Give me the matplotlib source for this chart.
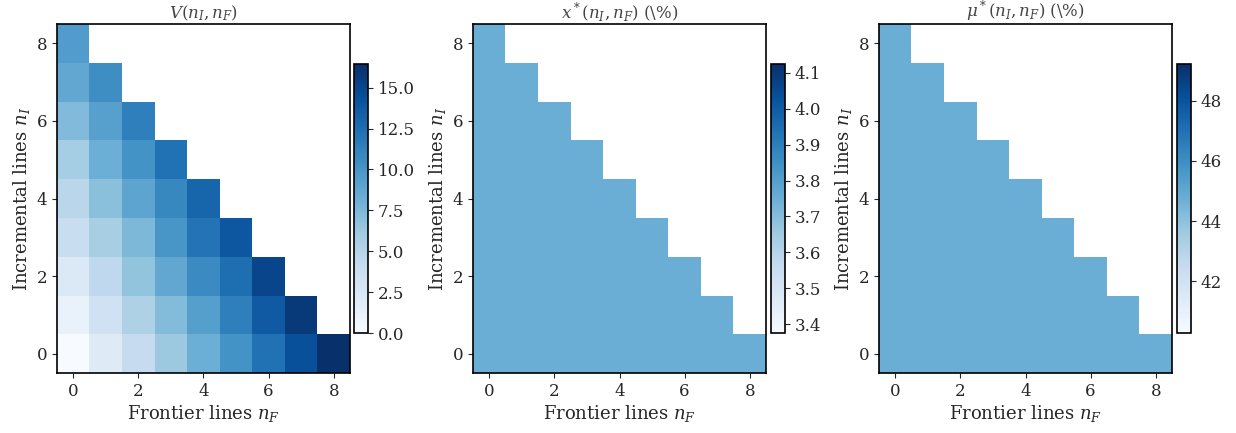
import numpy as np
import matplotlib
matplotlib.use("Agg")
import matplotlib.pyplot as plt

plt.rcParams['font.family'] = 'DejaVu Serif'
plt.rcParams['mathtext.fontset'] = 'dejavuserif'
plt.rcParams['text.color'] = '#262626'
plt.rcParams['axes.labelcolor'] = '#262626'
plt.rcParams['xtick.color'] = '#262626'
plt.rcParams['ytick.color'] = '#262626'

# V(n_I, n_F), one list per n_I (row), n_F = 0.. along the row
v_rows = [
    [0.0, 2.05, 4.1, 6.2, 8.2, 10.2, 12.3, 14.4, 16.45],  # n_I = 0
    [1.1, 3.3, 5.3, 7.2, 9.3, 11.4, 13.8, 15.8],          # n_I = 1
    [2.3, 4.4, 6.6, 8.7, 10.7, 12.5, 15.1],               # n_I = 2
    [3.8, 5.6, 7.5, 9.9, 12.2, 14.0],                     # n_I = 3
    [4.7, 6.9, 8.9, 10.9, 13.1],                          # n_I = 4
    [5.8, 8.2, 10.2, 12.3],                               # n_I = 5
    [7.3, 9.2, 11.4],                                     # n_I = 6
    [8.7, 10.5],                                          # n_I = 7
    [9.5],                                                # n_I = 8
]
# optimal x* and mu* come out the same in every feasible cell
x_star_value = 3.75
mu_star_value = 44.75

n_max = 8
titles = [r"$V(n_I, n_F)$", r"$x^*(n_I, n_F)$ (\%)", r"$\mu^*(n_I, n_F)$ (\%)"]
ticks = [0, 2, 4, 6, 8]


def to_grid(rows):
    grid = np.full((n_max + 1, n_max + 1), np.nan)
    for i, row in enumerate(rows):
        grid[i, :len(row)] = row
    return grid


def const_rows(value):
    return [[value] * (n_max + 1 - i) for i in range(n_max + 1)]


grids = [to_grid(v_rows), to_grid(const_rows(x_star_value)), to_grid(const_rows(mu_star_value))]

W, H = 1236, 433
fig = plt.figure(figsize=(W / 100, H / 100), dpi=100)

ax_lefts = [57, 473, 879]
cb_lefts = [354, 771, 1177]

for grid, title, axl, cbl in zip(grids, titles, ax_lefts, cb_lefts):
    ax = fig.add_axes([axl / W, (H - 373) / H, 293 / W, 349 / H])
    cax = fig.add_axes([cbl / W, (H - 333) / H, 14 / W, 269 / H])
    im = ax.imshow(grid, origin='lower', cmap='Blues', aspect='auto', interpolation='nearest')
    cb = fig.colorbar(im, cax=cax)
    cb.outline.set_linewidth(1.2)
    cb.ax.tick_params(labelsize=12, length=3.5)
    ax.set_xticks(ticks)
    ax.set_yticks(ticks)
    ax.tick_params(labelsize=12, length=3.5)
    ax.set_xlabel(r"Frontier lines $n_F$", fontsize=13, labelpad=2)
    ax.set_ylabel(r"Incremental lines $n_I$", fontsize=13, labelpad=3)
    ax.set_title(title, fontsize=12, pad=4, color='#444444')
    for s in ax.spines.values():
        s.set_linewidth(1.2)

fig.savefig("out.png", dpi=100)
